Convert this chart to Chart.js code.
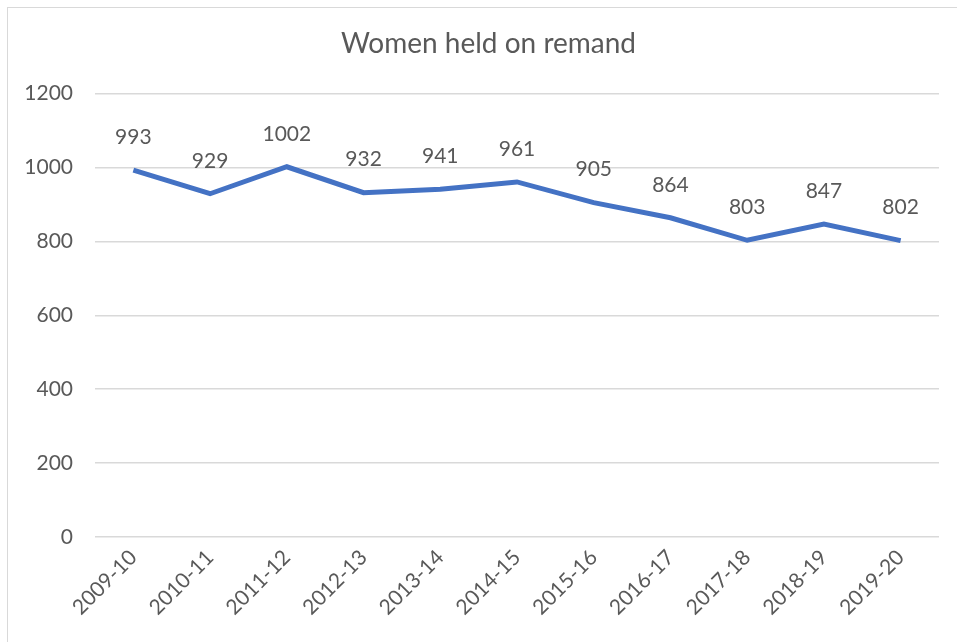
<!DOCTYPE html>
<html lang="en">
<head>
    <meta charset="UTF-8">
    <title>Women held on remand</title>
    <style>
        html, body {
            margin: 0;
            padding: 0;
            background: #fff;
        }
        .frame {
            position: absolute;
            left: 7px;
            top: 7px;
            width: 960px;
            height: 640px;
            border-left: 1px solid #d9d9d9;
            border-top: 1px solid #d9d9d9;
        }
        .wrap {
            position: absolute;
            left: 0;
            top: 0;
            width: 957px;
            height: 642px;
        }
    </style>
</head>
<body>
    <div class="frame"></div>
    <div class="wrap">
        <canvas id="myChart" width="957" height="642"></canvas>
    </div>

    <script src="https://cdn.jsdelivr.net/npm/chart.js"></script>
    <script>
        const years = ['2009-10', '2010-11', '2011-12', '2012-13', '2013-14', '2014-15',
                       '2015-16', '2016-17', '2017-18', '2018-19', '2019-20'];
        const women = [993, 929, 1002, 932, 941, 961, 905, 864, 803, 847, 802];
        const yTicks = [0, 200, 400, 600, 800, 1000, 1200];

        const textColor = '#595959';
        const fontFamily = 'Lato, "Open Sans", sans-serif';

        // simple value labels above each point
        const valueLabels = {
            id: 'valueLabels',
            afterLayout(chart) {
                // nudge the title to sit over the framed area like the original
                if (chart.titleBlock) {
                    chart.titleBlock.left += 10;
                    chart.titleBlock.right += 10;
                }
            },
            afterDatasetsDraw(chart) {
                const ctx = chart.ctx;
                const meta = chart.getDatasetMeta(0);
                ctx.save();
                ctx.font = '21px ' + fontFamily;
                ctx.fillStyle = textColor;
                ctx.textAlign = 'center';
                ctx.textBaseline = 'middle';
                meta.data.forEach((pt, i) => {
                    ctx.fillText(String(women[i]), pt.x, pt.y - 33);
                });
                ctx.restore();
            }
        };

        Chart.defaults.font.family = fontFamily;
        Chart.defaults.color = textColor;

        const ctx = document.getElementById('myChart').getContext('2d');
        new Chart(ctx, {
            type: 'line',
            data: {
                labels: years,
                datasets: [{
                    label: 'Women held on remand',
                    data: women,
                    borderColor: '#4472C4',
                    backgroundColor: '#4472C4',
                    borderWidth: 5,
                    pointRadius: 0,
                    tension: 0,
                    fill: false
                }]
            },
            options: {
                responsive: false,
                animation: false,
                layout: {
                    padding: { left: 18, right: 18, top: 0, bottom: 0 }
                },
                plugins: {
                    legend: { display: false },
                    tooltip: { enabled: false },
                    title: {
                        display: true,
                        text: 'Women held on remand',
                        color: textColor,
                        font: { size: 28, weight: 'normal' },
                        padding: { top: 27, bottom: 33 }
                    }
                },
                scales: {
                    x: {
                        offset: true,
                        grid: { display: false, drawTicks: false },
                        border: { display: false },
                        ticks: {
                            maxRotation: 45,
                            minRotation: 45,
                            padding: 8,
                            font: { size: 21 },
                            color: textColor
                        },
                        afterFit(scale) {
                            scale.height = 105;
                        }
                    },
                    y: {
                        min: 0,
                        max: 1200,
                        afterBuildTicks(scale) {
                            scale.ticks = yTicks.map(v => ({ value: v }));
                        },
                        grid: { color: '#d9d9d9', lineWidth: 1.5, drawTicks: false },
                        border: { display: false },
                        ticks: {
                            padding: 22,
                            font: { size: 21 },
                            color: textColor,
                            callback: (v) => String(v)
                        },
                        afterFit(scale) {
                            scale.width = 77;
                        }
                    }
                }
            },
            plugins: [valueLabels]
        });
    </script>
</body>
</html>
